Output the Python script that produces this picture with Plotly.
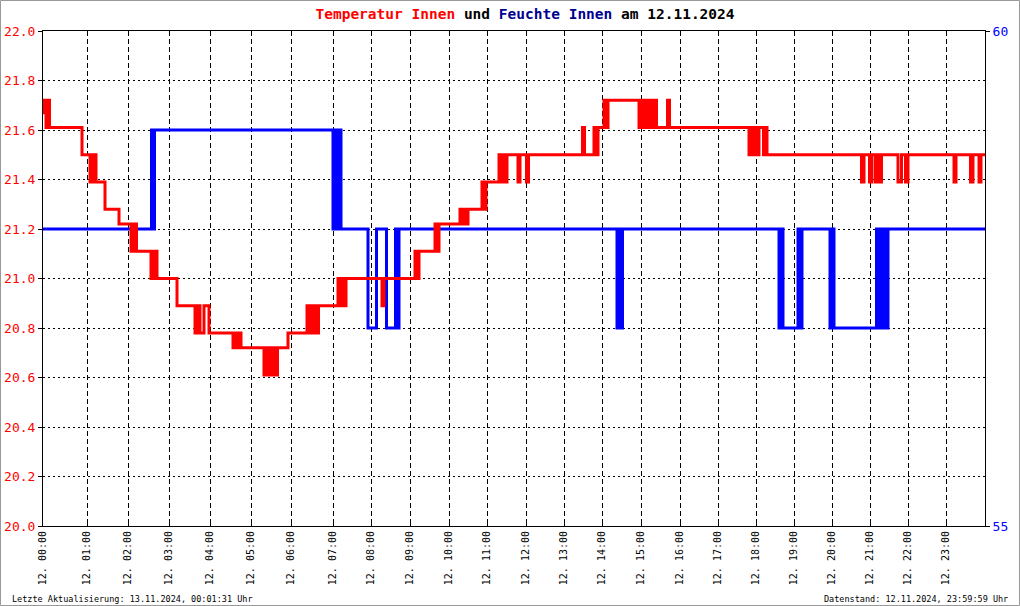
import plotly.graph_objects as go

# x axis is the logger's sample index; these are the samples where each hour starts
hour_start = [0, 44, 85, 126, 167, 208, 248, 290, 328, 367, 406, 444,
              483, 521, 559, 598, 637, 675, 713, 751, 789, 827, 865, 903]
hour_labels = ["12. %02d:00" % h for h in range(24)]
n_samples = 942

# Temperatur Innen (°C), change points (sample, value)
temp_sample = [0, 1.5, 3, 4.5, 6.5, 39, 47, 48.5, 50, 51.5, 53, 62, 76,
               88, 89.5, 91, 92.5, 93.5, 108, 109.5, 111, 112.5, 114, 134,
               152, 154, 157, 161, 166, 190, 192, 194, 196, 198,
               221, 223, 225, 227, 229, 231, 233, 234.5, 245,
               264, 266, 268, 270, 272, 274, 275.5,
               295, 297, 299, 301, 303, 339, 341,
               372, 374, 376, 392, 394, 396,
               417, 419, 421, 423, 425, 439, 441, 443,
               456, 458, 460, 462, 464, 475, 477, 483.5, 485.5,
               539.5, 541.5, 551, 553, 555, 561, 563, 565,
               596, 598, 600, 602, 604, 606, 608, 611, 613.5, 624.5, 626.5,
               706, 708, 710, 712, 714, 716, 720.5, 722, 724,
               818.5, 821, 826.5, 829, 832.5, 834.5, 836.5, 838.5,
               855, 858.5, 862.5, 865, 911, 913, 927.5, 930, 936, 938, 942]
temp_value = [21.67, 21.72, 21.61, 21.72, 21.61, 21.5, 21.39, 21.5, 21.39, 21.5, 21.39, 21.28, 21.22,
              21.11, 21.22, 21.11, 21.22, 21.11, 21.0, 21.11, 21.0, 21.11, 21.0, 20.89,
              20.78, 20.89, 20.78, 20.89, 20.78, 20.72, 20.78, 20.72, 20.78, 20.72,
              20.61, 20.72, 20.61, 20.72, 20.61, 20.72, 20.61, 20.72, 20.78,
              20.89, 20.78, 20.89, 20.78, 20.89, 20.78, 20.89,
              21.0, 20.89, 21.0, 20.89, 21.0, 20.89, 21.0,
              21.11, 21.0, 21.11, 21.22, 21.11, 21.22,
              21.28, 21.22, 21.28, 21.22, 21.28, 21.39, 21.28, 21.39,
              21.5, 21.39, 21.5, 21.39, 21.5, 21.39, 21.5, 21.39, 21.5,
              21.61, 21.5, 21.61, 21.5, 21.61, 21.72, 21.61, 21.72,
              21.61, 21.72, 21.61, 21.72, 21.61, 21.72, 21.61, 21.72, 21.61, 21.72, 21.61,
              21.5, 21.61, 21.5, 21.61, 21.5, 21.61, 21.5, 21.61, 21.5,
              21.39, 21.5, 21.39, 21.5, 21.39, 21.5, 21.39, 21.5,
              21.39, 21.5, 21.39, 21.5, 21.39, 21.5, 21.39, 21.5, 21.39, 21.5, 21.5]

# Feuchte Innen (%), change points (sample, value)
hum_sample = [0, 108.5, 110, 111.5, 290, 292, 294, 296, 298,
              325, 333.5, 343.5, 352.5, 354.5, 356,
              574, 576, 577.5, 579.5, 736, 738, 740,
              755, 757, 759, 787, 789, 791,
              833.5, 835.5, 837.5, 839.5, 841.5, 843.5, 845, 942]
hum_value = [58, 59, 58, 59, 58, 59, 58, 59, 58,
             57, 58, 57, 58, 57, 58,
             57, 58, 57, 58, 57, 58, 57,
             58, 57, 58, 57, 58, 57,
             58, 57, 58, 57, 58, 57, 58, 58]

mono = "DejaVu Sans Mono"

fig = go.Figure()
# humidity on the primary (right) axis so temperature draws on top
fig.add_trace(go.Scatter(x=hum_sample, y=hum_value, yaxis="y", mode="lines",
    line=dict(color="#0000FF", width=3, shape="hv"), name="Feuchte Innen"))
fig.add_trace(go.Scatter(x=temp_sample, y=temp_value, yaxis="y2", mode="lines",
    line=dict(color="#FF0000", width=3, shape="hv"), name="Temperatur Innen"))

fig.update_layout(
    width=1020, height=606,
    margin=dict(l=43, r=35, t=31, b=80),
    paper_bgcolor="white", plot_bgcolor="white",
    showlegend=False,
    title=dict(
        text="<b><span style='color:#FF0000'>Temperatur Innen</span> und "
             "<span style='color:#000090'>Feuchte Innen</span> am 12.11.2024</b>",
        x=525 / 1020, xanchor="center", y=1 - 14 / 606, yanchor="middle",
        font=dict(family=mono, size=14.5, color="black")),
    xaxis=dict(
        range=[0, n_samples], tickvals=hour_start, ticktext=hour_labels,
        tickangle=-90, tickfont=dict(family=mono, size=10, color="black"),
        showgrid=True, gridcolor="black", gridwidth=1, griddash="5px,3px",
        showline=True, linecolor="black", linewidth=1, mirror="ticks",
        ticks="inside", ticklen=5, tickcolor="black", zeroline=False,
        automargin=False),
    yaxis=dict(
        side="right", range=[55, 60], tickvals=[55, 60],
        tickfont=dict(family=mono, size=13, color="#0000FF"),
        showgrid=False, showline=True, linecolor="black", linewidth=1,
        ticks="outside", ticklen=4, tickcolor="black", zeroline=False,
        automargin=False),
    yaxis2=dict(
        overlaying="y", side="left", range=[20, 22], dtick=0.2, tick0=20,
        tickformat=".1f", tickfont=dict(family=mono, size=13, color="#FF0000"),
        showgrid=True, gridcolor="black", gridwidth=1, griddash="2px,3px",
        showline=True, linecolor="black", linewidth=1,
        ticks="outside", ticklen=4, tickcolor="black", zeroline=False,
        automargin=False),
    annotations=[
        dict(text="Letzte Aktualisierung: 13.11.2024, 00:01:31 Uhr",
             xref="paper", yref="paper", x=(10 - 43) / 942, y=(526 - 599) / 495,
             xanchor="left", yanchor="middle", showarrow=False,
             font=dict(family=mono, size=8.5, color="black")),
        dict(text="Datenstand: 12.11.2024, 23:59:59 Uhr",
             xref="paper", yref="paper", x=(1010 - 43) / 942, y=(526 - 599) / 495,
             xanchor="right", yanchor="middle", showarrow=False,
             font=dict(family=mono, size=8.5, color="black")),
    ],
    shapes=[dict(type="rect", xref="paper", yref="paper",
                 x0=(0.5 - 43) / 942, x1=(1019.5 - 43) / 942,
                 y0=(526 - 605.5) / 495, y1=(526 - 0.5) / 495,
                 line=dict(color="#999999", width=1), fillcolor="rgba(0,0,0,0)")],
)

# page body has a default 8px margin; drop it so the chart sits at the window corner
fig.write_html("out.html", config={"displayModeBar": False},
               post_script="document.body.style.margin='0';")
